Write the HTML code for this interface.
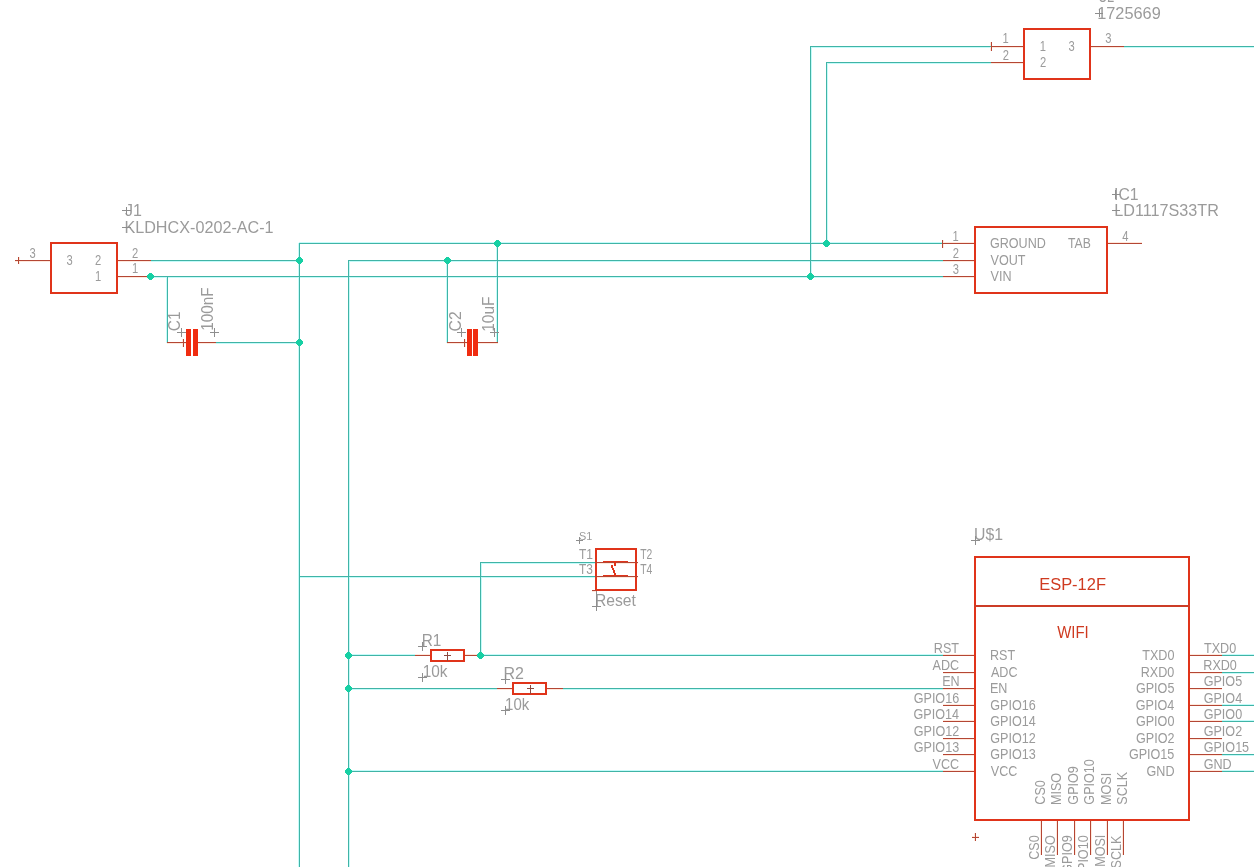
<!DOCTYPE html>
<html><head><meta charset="utf-8"><style>
html,body{margin:0;padding:0;background:#fff;overflow:hidden;}
svg{display:block;will-change:transform;}
text{font-family:"Liberation Sans",sans-serif;}
</style></head><body>
<svg width="1254" height="867" viewBox="0 0 1254 867">
<rect width="1254" height="867" fill="#fff"/>
<g shape-rendering="crispEdges">
<rect x="810" y="47" width="182" height="1" fill="#c4fbfa"/>
<rect x="826" y="63" width="166" height="1" fill="#c4fbfa"/>
<rect x="811" y="46" width="1" height="231" fill="#c4fbfa"/>
<rect x="827" y="62" width="1" height="182" fill="#c4fbfa"/>
<rect x="1123" y="47" width="131" height="1" fill="#c4fbfa"/>
<rect x="299" y="242" width="645" height="1" fill="#c4fbfa"/>
<rect x="150" y="261" width="150" height="1" fill="#c4fbfa"/>
<rect x="348" y="261" width="596" height="1" fill="#c4fbfa"/>
<rect x="150" y="277" width="794" height="1" fill="#c4fbfa"/>
<rect x="298" y="243" width="1" height="624" fill="#c4fbfa"/>
<rect x="349" y="260" width="1" height="607" fill="#c4fbfa"/>
<rect x="166" y="276" width="1" height="67" fill="#c4fbfa"/>
<rect x="215" y="343" width="85" height="1" fill="#c4fbfa"/>
<rect x="446" y="260" width="1" height="83" fill="#c4fbfa"/>
<rect x="496" y="243" width="1" height="100" fill="#c4fbfa"/>
<rect x="299" y="577" width="297" height="1" fill="#c4fbfa"/>
<rect x="480" y="563" width="116" height="1" fill="#c4fbfa"/>
<rect x="481" y="562" width="1" height="94" fill="#c4fbfa"/>
<rect x="348" y="654" width="68" height="1" fill="#c4fbfa"/>
<rect x="477" y="654" width="467" height="1" fill="#c4fbfa"/>
<rect x="348" y="689" width="150" height="1" fill="#c4fbfa"/>
<rect x="563" y="689" width="381" height="1" fill="#c4fbfa"/>
<rect x="348" y="770" width="596" height="1" fill="#c4fbfa"/>
<rect x="1222" y="654" width="32" height="1" fill="#c4fbfa"/>
<rect x="1222" y="673" width="32" height="1" fill="#c4fbfa"/>
<rect x="1222" y="704" width="32" height="1" fill="#c4fbfa"/>
<rect x="1222" y="720" width="32" height="1" fill="#c4fbfa"/>
<rect x="1222" y="755" width="32" height="1" fill="#c4fbfa"/>
<rect x="1222" y="770" width="32" height="1" fill="#c4fbfa"/>
<rect x="15" y="261" width="35" height="1" fill="#ffe8dc"/>
<rect x="19" y="257" width="1" height="7" fill="#ffe8dc"/>
<rect x="118" y="261" width="33" height="1" fill="#ffe8dc"/>
<rect x="118" y="277" width="33" height="1" fill="#ffe8dc"/>
<rect x="167" y="343" width="19" height="1" fill="#ffe8dc"/>
<rect x="198" y="343" width="18" height="1" fill="#ffe8dc"/>
<rect x="182" y="339" width="1" height="8" fill="#ffe8dc"/>
<rect x="447" y="343" width="20" height="1" fill="#ffe8dc"/>
<rect x="478" y="343" width="20" height="1" fill="#ffe8dc"/>
<rect x="465" y="339" width="1" height="8" fill="#ffe8dc"/>
<rect x="991" y="47" width="32" height="1" fill="#ffe8dc"/>
<rect x="991" y="63" width="32" height="1" fill="#ffe8dc"/>
<rect x="1091" y="47" width="33" height="1" fill="#ffe8dc"/>
<rect x="990" y="42" width="1" height="9" fill="#ffe8dc"/>
<rect x="943" y="242" width="31" height="1" fill="#ffe8dc"/>
<rect x="943" y="261" width="31" height="1" fill="#ffe8dc"/>
<rect x="943" y="277" width="31" height="1" fill="#ffe8dc"/>
<rect x="1108" y="242" width="34" height="1" fill="#ffe8dc"/>
<rect x="943" y="240" width="1" height="8" fill="#ffe8dc"/>
<rect x="595" y="563" width="43" height="1" fill="#ffe8dc"/>
<rect x="595" y="577" width="43" height="1" fill="#ffe8dc"/>
<rect x="592" y="591" width="4" height="1" fill="#ffe8dc"/>
<rect x="415" y="654" width="15" height="1" fill="#ffe8dc"/>
<rect x="465" y="654" width="12" height="1" fill="#ffe8dc"/>
<rect x="497" y="689" width="15" height="1" fill="#ffe8dc"/>
<rect x="547" y="689" width="16" height="1" fill="#ffe8dc"/>
<rect x="943" y="654" width="31" height="1" fill="#ffe8dc"/>
<rect x="943" y="673" width="31" height="1" fill="#ffe8dc"/>
<rect x="943" y="689" width="31" height="1" fill="#ffe8dc"/>
<rect x="943" y="704" width="31" height="1" fill="#ffe8dc"/>
<rect x="943" y="720" width="31" height="1" fill="#ffe8dc"/>
<rect x="943" y="739" width="31" height="1" fill="#ffe8dc"/>
<rect x="943" y="755" width="31" height="1" fill="#ffe8dc"/>
<rect x="943" y="770" width="31" height="1" fill="#ffe8dc"/>
<rect x="1190" y="654" width="32" height="1" fill="#ffe8dc"/>
<rect x="1190" y="673" width="32" height="1" fill="#ffe8dc"/>
<rect x="1190" y="689" width="32" height="1" fill="#ffe8dc"/>
<rect x="1190" y="704" width="32" height="1" fill="#ffe8dc"/>
<rect x="1190" y="720" width="32" height="1" fill="#ffe8dc"/>
<rect x="1190" y="739" width="32" height="1" fill="#ffe8dc"/>
<rect x="1190" y="755" width="32" height="1" fill="#ffe8dc"/>
<rect x="1190" y="770" width="32" height="1" fill="#ffe8dc"/>
<rect x="1040" y="821" width="1" height="34" fill="#ffe8dc"/>
<rect x="1056" y="821" width="1" height="34" fill="#ffe8dc"/>
<rect x="1075" y="821" width="1" height="34" fill="#ffe8dc"/>
<rect x="1091" y="821" width="1" height="34" fill="#ffe8dc"/>
<rect x="1106" y="821" width="1" height="34" fill="#ffe8dc"/>
<rect x="1122" y="821" width="1" height="34" fill="#ffe8dc"/>
<rect x="972" y="836" width="7" height="1" fill="#ffe8dc"/>
<rect x="974" y="833" width="1" height="8" fill="#ffe8dc"/>
<rect x="810" y="46" width="182" height="1" fill="#40b4a6"/>
<rect x="826" y="62" width="166" height="1" fill="#40b4a6"/>
<rect x="810" y="46" width="1" height="231" fill="#40b4a6"/>
<rect x="826" y="62" width="1" height="182" fill="#40b4a6"/>
<rect x="1123" y="46" width="131" height="1" fill="#40b4a6"/>
<rect x="299" y="243" width="645" height="1" fill="#40b4a6"/>
<rect x="150" y="260" width="150" height="1" fill="#40b4a6"/>
<rect x="348" y="260" width="596" height="1" fill="#40b4a6"/>
<rect x="150" y="276" width="794" height="1" fill="#40b4a6"/>
<rect x="299" y="243" width="1" height="624" fill="#40b4a6"/>
<rect x="348" y="260" width="1" height="607" fill="#40b4a6"/>
<rect x="167" y="276" width="1" height="67" fill="#40b4a6"/>
<rect x="215" y="342" width="85" height="1" fill="#40b4a6"/>
<rect x="447" y="260" width="1" height="83" fill="#40b4a6"/>
<rect x="497" y="243" width="1" height="100" fill="#40b4a6"/>
<rect x="299" y="576" width="297" height="1" fill="#40b4a6"/>
<rect x="480" y="562" width="116" height="1" fill="#40b4a6"/>
<rect x="480" y="562" width="1" height="94" fill="#40b4a6"/>
<rect x="348" y="655" width="68" height="1" fill="#40b4a6"/>
<rect x="477" y="655" width="467" height="1" fill="#40b4a6"/>
<rect x="348" y="688" width="150" height="1" fill="#40b4a6"/>
<rect x="563" y="688" width="381" height="1" fill="#40b4a6"/>
<rect x="348" y="771" width="596" height="1" fill="#40b4a6"/>
<rect x="1222" y="655" width="32" height="1" fill="#40b4a6"/>
<rect x="1222" y="672" width="32" height="1" fill="#40b4a6"/>
<rect x="1222" y="705" width="32" height="1" fill="#40b4a6"/>
<rect x="1222" y="721" width="32" height="1" fill="#40b4a6"/>
<rect x="1222" y="754" width="32" height="1" fill="#40b4a6"/>
<rect x="1222" y="771" width="32" height="1" fill="#40b4a6"/>
<rect x="50" y="242" width="68" height="2" fill="#e0341a"/>
<rect x="50" y="292" width="68" height="2" fill="#e0341a"/>
<rect x="50" y="242" width="2" height="52" fill="#e0341a"/>
<rect x="116" y="242" width="2" height="52" fill="#e0341a"/>
<rect x="15" y="260" width="35" height="1" fill="#b44634"/>
<rect x="18" y="257" width="1" height="7" fill="#b44634"/>
<rect x="118" y="260" width="33" height="1" fill="#b44634"/>
<rect x="118" y="276" width="33" height="1" fill="#b44634"/>
<text transform="translate(29.42,258.00) scale(0.8000,1)" font-size="14" fill="#9b9b9b">3</text>
<text transform="translate(66.42,264.60) scale(0.8000,1)" font-size="14" fill="#9b9b9b">3</text>
<text transform="translate(95.08,264.60) scale(0.8000,1)" font-size="14" fill="#9b9b9b">2</text>
<text transform="translate(94.92,280.50) scale(0.8000,1)" font-size="14" fill="#9b9b9b">1</text>
<text transform="translate(132.08,257.70) scale(0.8000,1)" font-size="14" fill="#9b9b9b">2</text>
<text transform="translate(131.92,273.30) scale(0.8000,1)" font-size="14" fill="#9b9b9b">1</text>
<text transform="translate(124.90,215.80) scale(1.0000,1)" font-size="16" fill="#9b9b9b">J1</text>
<text transform="translate(124.38,232.90) scale(1.0124,1)" font-size="16" fill="#9b9b9b">KLDHCX-0202-AC-1</text>
<rect x="122" y="210" width="9" height="1" fill="#8e8e8e"/>
<rect x="126" y="207" width="1" height="8" fill="#8e8e8e"/>
<rect x="122" y="227" width="9" height="1" fill="#8e8e8e"/>
<rect x="167" y="342" width="19" height="1" fill="#b44634"/>
<rect x="198" y="342" width="18" height="1" fill="#b44634"/>
<rect x="186" y="329" width="5" height="27" fill="#f02c10"/>
<rect x="193" y="329" width="5" height="27" fill="#f02c10"/>
<rect x="183" y="339" width="1" height="8" fill="#b44634"/>
<text transform="translate(180.10,331.27) rotate(-90) scale(0.9683,1)" font-size="16" fill="#9b9b9b">C1</text>
<text transform="translate(212.90,330.64) rotate(-90) scale(0.9540,1)" font-size="16" fill="#9b9b9b">100nF</text>
<rect x="177" y="332" width="9" height="1" fill="#8e8e8e"/>
<rect x="181" y="328" width="1" height="9" fill="#8e8e8e"/>
<rect x="210" y="332" width="9" height="1" fill="#8e8e8e"/>
<rect x="214" y="328" width="1" height="9" fill="#8e8e8e"/>
<rect x="447" y="342" width="20" height="1" fill="#b44634"/>
<rect x="478" y="342" width="20" height="1" fill="#b44634"/>
<rect x="467" y="329" width="5" height="27" fill="#f02c10"/>
<rect x="473" y="329" width="5" height="27" fill="#f02c10"/>
<rect x="464" y="339" width="1" height="8" fill="#b44634"/>
<text transform="translate(460.80,331.39) rotate(-90) scale(0.9841,1)" font-size="16" fill="#9b9b9b">C2</text>
<text transform="translate(493.60,331.76) rotate(-90) scale(0.9682,1)" font-size="16" fill="#9b9b9b">10uF</text>
<rect x="457" y="332" width="9" height="1" fill="#8e8e8e"/>
<rect x="461" y="328" width="1" height="9" fill="#8e8e8e"/>
<rect x="490" y="332" width="9" height="1" fill="#8e8e8e"/>
<rect x="494" y="328" width="1" height="9" fill="#8e8e8e"/>
<rect x="1023" y="28" width="68" height="2" fill="#e0341a"/>
<rect x="1023" y="78" width="68" height="2" fill="#e0341a"/>
<rect x="1023" y="28" width="2" height="52" fill="#e0341a"/>
<rect x="1089" y="28" width="2" height="52" fill="#e0341a"/>
<rect x="991" y="46" width="32" height="1" fill="#b44634"/>
<rect x="991" y="62" width="32" height="1" fill="#b44634"/>
<rect x="1091" y="46" width="33" height="1" fill="#b44634"/>
<rect x="991" y="42" width="1" height="9" fill="#b44634"/>
<text transform="translate(1002.52,42.80) scale(0.8000,1)" font-size="14" fill="#9b9b9b">1</text>
<text transform="translate(1002.68,59.60) scale(0.8000,1)" font-size="14" fill="#9b9b9b">2</text>
<text transform="translate(1105.32,42.80) scale(0.8000,1)" font-size="14" fill="#9b9b9b">3</text>
<text transform="translate(1039.82,51.00) scale(0.8000,1)" font-size="14" fill="#9b9b9b">1</text>
<text transform="translate(1039.98,66.70) scale(0.8000,1)" font-size="14" fill="#9b9b9b">2</text>
<text transform="translate(1068.42,51.00) scale(0.8000,1)" font-size="14" fill="#9b9b9b">3</text>
<text transform="translate(1098.15,1.80) scale(0.7946,1)" font-size="16" fill="#9b9b9b">U2</text>
<text transform="translate(1097.17,18.70) scale(1.0215,1)" font-size="16" fill="#9b9b9b">1725669</text>
<rect x="1095" y="13" width="8" height="1" fill="#8e8e8e"/>
<rect x="1099" y="9" width="1" height="8" fill="#8e8e8e"/>
<rect x="974" y="226" width="134" height="2" fill="#e0341a"/>
<rect x="974" y="292" width="134" height="2" fill="#e0341a"/>
<rect x="974" y="226" width="2" height="68" fill="#e0341a"/>
<rect x="1106" y="226" width="2" height="68" fill="#e0341a"/>
<rect x="943" y="243" width="31" height="1" fill="#b44634"/>
<rect x="943" y="260" width="31" height="1" fill="#b44634"/>
<rect x="943" y="276" width="31" height="1" fill="#b44634"/>
<rect x="1108" y="243" width="34" height="1" fill="#b44634"/>
<rect x="942" y="240" width="1" height="8" fill="#b44634"/>
<text transform="translate(952.52,240.90) scale(0.8000,1)" font-size="14" fill="#9b9b9b">1</text>
<text transform="translate(952.68,258.00) scale(0.8000,1)" font-size="14" fill="#9b9b9b">2</text>
<text transform="translate(952.72,273.50) scale(0.8000,1)" font-size="14" fill="#9b9b9b">3</text>
<text transform="translate(1122.32,241.00) scale(0.8000,1)" font-size="14" fill="#9b9b9b">4</text>
<text transform="translate(989.97,247.90) scale(0.8997,1)" font-size="14" fill="#9b9b9b">GROUND</text>
<text transform="translate(990.51,264.70) scale(0.9000,1)" font-size="14" fill="#9b9b9b">VOUT</text>
<text transform="translate(990.51,280.50) scale(0.9000,1)" font-size="14" fill="#9b9b9b">VIN</text>
<text transform="translate(1067.94,247.90) scale(0.8730,1)" font-size="14" fill="#9b9b9b">TAB</text>
<text transform="translate(1114.02,199.50) scale(0.9867,1)" font-size="16" fill="#9b9b9b">IC1</text>
<text transform="translate(1114.18,215.80) scale(1.0128,1)" font-size="16" fill="#9b9b9b">LD1117S33TR</text>
<rect x="1112" y="194" width="8" height="1" fill="#8e8e8e"/>
<rect x="1115" y="190" width="1" height="9" fill="#8e8e8e"/>
<rect x="1112" y="210" width="8" height="1" fill="#8e8e8e"/>
<rect x="595" y="548" width="42" height="2" fill="#e0341a"/>
<rect x="595" y="589" width="42" height="2" fill="#e0341a"/>
<rect x="595" y="548" width="2" height="43" fill="#e0341a"/>
<rect x="635" y="548" width="2" height="43" fill="#e0341a"/>
<rect x="595" y="562" width="43" height="1" fill="#b44634"/>
<rect x="595" y="576" width="43" height="1" fill="#b44634"/>
<rect x="603" y="561" width="25" height="1" fill="#e0341a"/>
<rect x="603" y="575" width="25" height="1" fill="#e0341a"/>
<rect x="614" y="562" width="2" height="4" fill="#e0341a"/>
<rect x="611" y="565" width="2" height="1" fill="#e0341a"/>
<rect x="611" y="566" width="2" height="1" fill="#e0341a"/>
<rect x="611" y="567" width="2" height="1" fill="#e0341a"/>
<rect x="612" y="568" width="2" height="1" fill="#e0341a"/>
<rect x="612" y="569" width="2" height="1" fill="#e0341a"/>
<rect x="613" y="570" width="2" height="1" fill="#e0341a"/>
<rect x="613" y="571" width="2" height="1" fill="#e0341a"/>
<rect x="613" y="572" width="2" height="1" fill="#e0341a"/>
<rect x="614" y="573" width="2" height="1" fill="#e0341a"/>
<rect x="614" y="574" width="2" height="1" fill="#e0341a"/>
<text transform="translate(578.94,558.70) scale(0.8571,1)" font-size="14" fill="#9b9b9b">T1</text>
<text transform="translate(578.94,573.60) scale(0.8516,1)" font-size="14" fill="#9b9b9b">T3</text>
<text transform="translate(640.18,558.70) scale(0.7403,1)" font-size="14" fill="#9b9b9b">T2</text>
<text transform="translate(640.18,573.60) scale(0.7389,1)" font-size="14" fill="#9b9b9b">T4</text>
<text transform="translate(579.10,539.80) scale(0.9919,1)" font-size="11" fill="#9b9b9b">S1</text>
<rect x="576" y="540" width="7" height="1" fill="#8e8e8e"/>
<rect x="579" y="537" width="1" height="7" fill="#8e8e8e"/>
<text transform="translate(594.93,605.80) scale(0.9802,1)" font-size="16" fill="#9b9b9b">Reset</text>
<rect x="596" y="591" width="1" height="20" fill="#8e8e8e"/>
<rect x="592" y="606" width="9" height="1" fill="#8e8e8e"/>
<rect x="592" y="590" width="4" height="1" fill="#b44634"/>
<rect x="430" y="649" width="35" height="2" fill="#e0341a"/>
<rect x="430" y="660" width="35" height="2" fill="#e0341a"/>
<rect x="430" y="649" width="2" height="13" fill="#e0341a"/>
<rect x="463" y="649" width="2" height="13" fill="#e0341a"/>
<rect x="415" y="655" width="15" height="1" fill="#b44634"/>
<rect x="465" y="655" width="12" height="1" fill="#b44634"/>
<rect x="444" y="655" width="7" height="1" fill="#8a4a40"/>
<rect x="447" y="652" width="1" height="9" fill="#8a4a40"/>
<rect x="512" y="682" width="35" height="2" fill="#e0341a"/>
<rect x="512" y="693" width="35" height="2" fill="#e0341a"/>
<rect x="512" y="682" width="2" height="13" fill="#e0341a"/>
<rect x="545" y="682" width="2" height="13" fill="#e0341a"/>
<rect x="497" y="688" width="15" height="1" fill="#b44634"/>
<rect x="547" y="688" width="16" height="1" fill="#b44634"/>
<rect x="527" y="688" width="7" height="1" fill="#8a4a40"/>
<rect x="530" y="685" width="1" height="9" fill="#8a4a40"/>
<text transform="translate(421.65,645.90) scale(0.9620,1)" font-size="16" fill="#9b9b9b">R1</text>
<text transform="translate(422.64,676.70) scale(0.9634,1)" font-size="16" fill="#9b9b9b">10k</text>
<rect x="418" y="646" width="9" height="1" fill="#8e8e8e"/>
<rect x="422" y="642" width="1" height="9" fill="#8e8e8e"/>
<rect x="418" y="677" width="9" height="1" fill="#8e8e8e"/>
<rect x="422" y="673" width="1" height="9" fill="#8e8e8e"/>
<text transform="translate(503.50,678.80) scale(1.0000,1)" font-size="16" fill="#9b9b9b">R2</text>
<text transform="translate(505.08,709.70) scale(0.9350,1)" font-size="16" fill="#9b9b9b">10k</text>
<rect x="501" y="679" width="9" height="1" fill="#8e8e8e"/>
<rect x="505" y="675" width="1" height="9" fill="#8e8e8e"/>
<rect x="501" y="710" width="9" height="1" fill="#8e8e8e"/>
<rect x="505" y="706" width="1" height="9" fill="#8e8e8e"/>
<rect x="974" y="556" width="216" height="2" fill="#e0341a"/>
<rect x="974" y="819" width="216" height="2" fill="#e0341a"/>
<rect x="974" y="556" width="2" height="265" fill="#e0341a"/>
<rect x="1188" y="556" width="2" height="265" fill="#e0341a"/>
<rect x="974" y="605" width="216" height="2" fill="#cc3c26"/>
<text transform="translate(1039.16,590.10) scale(1.0302,1)" font-size="16" fill="#cf3a20">ESP-12F</text>
<text transform="translate(1057.21,638.00) scale(0.9348,1)" font-size="16" fill="#cf3a20">WIFI</text>
<text transform="translate(974.01,539.70) scale(0.9891,1)" font-size="16" fill="#9b9b9b">U$1</text>
<rect x="971" y="540" width="9" height="1" fill="#8e8e8e"/>
<rect x="975" y="536" width="1" height="9" fill="#8e8e8e"/>
<rect x="943" y="655" width="31" height="1" fill="#b44634"/>
<text transform="translate(933.86,652.70) scale(0.9000,1)" font-size="14" fill="#9b9b9b">RST</text>
<text transform="translate(989.91,659.60) scale(0.9000,1)" font-size="14" fill="#9b9b9b">RST</text>
<rect x="943" y="672" width="31" height="1" fill="#b44634"/>
<text transform="translate(932.60,669.70) scale(0.9000,1)" font-size="14" fill="#9b9b9b">ADC</text>
<text transform="translate(990.90,676.60) scale(0.9000,1)" font-size="14" fill="#9b9b9b">ADC</text>
<rect x="943" y="688" width="31" height="1" fill="#b44634"/>
<text transform="translate(942.23,685.70) scale(0.9000,1)" font-size="14" fill="#9b9b9b">EN</text>
<text transform="translate(989.91,692.60) scale(0.9000,1)" font-size="14" fill="#9b9b9b">EN</text>
<rect x="943" y="705" width="31" height="1" fill="#b44634"/>
<text transform="translate(913.70,702.70) scale(0.9000,1)" font-size="14" fill="#9b9b9b">GPIO16</text>
<text transform="translate(990.27,709.60) scale(0.9000,1)" font-size="14" fill="#9b9b9b">GPIO16</text>
<rect x="943" y="721" width="31" height="1" fill="#b44634"/>
<text transform="translate(913.52,718.70) scale(0.9000,1)" font-size="14" fill="#9b9b9b">GPIO14</text>
<text transform="translate(990.27,725.60) scale(0.9000,1)" font-size="14" fill="#9b9b9b">GPIO14</text>
<rect x="943" y="738" width="31" height="1" fill="#b44634"/>
<text transform="translate(913.79,735.70) scale(0.9000,1)" font-size="14" fill="#9b9b9b">GPIO12</text>
<text transform="translate(990.27,742.60) scale(0.9000,1)" font-size="14" fill="#9b9b9b">GPIO12</text>
<rect x="943" y="754" width="31" height="1" fill="#b44634"/>
<text transform="translate(913.70,751.70) scale(0.9000,1)" font-size="14" fill="#9b9b9b">GPIO13</text>
<text transform="translate(990.27,758.60) scale(0.9000,1)" font-size="14" fill="#9b9b9b">GPIO13</text>
<rect x="943" y="771" width="31" height="1" fill="#b44634"/>
<text transform="translate(932.60,768.70) scale(0.9000,1)" font-size="14" fill="#9b9b9b">VCC</text>
<text transform="translate(990.81,775.60) scale(0.9000,1)" font-size="14" fill="#9b9b9b">VCC</text>
<rect x="1190" y="655" width="32" height="1" fill="#b44634"/>
<text transform="translate(1204.03,652.70) scale(0.9000,1)" font-size="14" fill="#9b9b9b">TXD0</text>
<text transform="translate(1142.22,659.60) scale(0.9000,1)" font-size="14" fill="#9b9b9b">TXD0</text>
<rect x="1190" y="672" width="32" height="1" fill="#b44634"/>
<text transform="translate(1203.31,669.70) scale(0.9000,1)" font-size="14" fill="#9b9b9b">RXD0</text>
<text transform="translate(1140.78,676.60) scale(0.9000,1)" font-size="14" fill="#9b9b9b">RXD0</text>
<rect x="1190" y="688" width="32" height="1" fill="#b44634"/>
<text transform="translate(1203.67,685.70) scale(0.9000,1)" font-size="14" fill="#9b9b9b">GPIO5</text>
<text transform="translate(1135.92,692.60) scale(0.9000,1)" font-size="14" fill="#9b9b9b">GPIO5</text>
<rect x="1190" y="705" width="32" height="1" fill="#b44634"/>
<text transform="translate(1203.67,702.70) scale(0.9000,1)" font-size="14" fill="#9b9b9b">GPIO4</text>
<text transform="translate(1135.74,709.60) scale(0.9000,1)" font-size="14" fill="#9b9b9b">GPIO4</text>
<rect x="1190" y="721" width="32" height="1" fill="#b44634"/>
<text transform="translate(1203.67,718.70) scale(0.9000,1)" font-size="14" fill="#9b9b9b">GPIO0</text>
<text transform="translate(1135.92,725.60) scale(0.9000,1)" font-size="14" fill="#9b9b9b">GPIO0</text>
<rect x="1190" y="738" width="32" height="1" fill="#b44634"/>
<text transform="translate(1203.67,735.70) scale(0.9000,1)" font-size="14" fill="#9b9b9b">GPIO2</text>
<text transform="translate(1136.01,742.60) scale(0.9000,1)" font-size="14" fill="#9b9b9b">GPIO2</text>
<rect x="1190" y="754" width="32" height="1" fill="#b44634"/>
<text transform="translate(1203.67,751.70) scale(0.9000,1)" font-size="14" fill="#9b9b9b">GPIO15</text>
<text transform="translate(1128.90,758.60) scale(0.9000,1)" font-size="14" fill="#9b9b9b">GPIO15</text>
<rect x="1190" y="771" width="32" height="1" fill="#b44634"/>
<text transform="translate(1203.67,768.70) scale(0.9000,1)" font-size="14" fill="#9b9b9b">GND</text>
<text transform="translate(1146.54,775.60) scale(0.9000,1)" font-size="14" fill="#9b9b9b">GND</text>
<rect x="1041" y="821" width="1" height="34" fill="#b44634"/>
<text transform="translate(1045.00,804.63) rotate(-90) scale(0.9000,1)" font-size="14" fill="#9b9b9b">CS0</text>
<text transform="translate(1038.50,859.74) rotate(-90) scale(0.9000,1)" font-size="14" fill="#9b9b9b">CS0</text>
<rect x="1057" y="821" width="1" height="34" fill="#b44634"/>
<text transform="translate(1061.00,804.99) rotate(-90) scale(0.9000,1)" font-size="14" fill="#9b9b9b">MISO</text>
<text transform="translate(1054.50,867.39) rotate(-90) scale(0.9000,1)" font-size="14" fill="#9b9b9b">MISO</text>
<rect x="1074" y="821" width="1" height="34" fill="#b44634"/>
<text transform="translate(1078.00,804.63) rotate(-90) scale(0.9000,1)" font-size="14" fill="#9b9b9b">GPIO9</text>
<text transform="translate(1071.50,873.69) rotate(-90) scale(0.9000,1)" font-size="14" fill="#9b9b9b">GPIO9</text>
<rect x="1090" y="821" width="1" height="34" fill="#b44634"/>
<text transform="translate(1094.00,804.63) rotate(-90) scale(0.9000,1)" font-size="14" fill="#9b9b9b">GPIO10</text>
<text transform="translate(1087.50,880.80) rotate(-90) scale(0.9000,1)" font-size="14" fill="#9b9b9b">GPIO10</text>
<rect x="1107" y="821" width="1" height="34" fill="#b44634"/>
<text transform="translate(1111.00,804.99) rotate(-90) scale(0.9000,1)" font-size="14" fill="#9b9b9b">MOSI</text>
<text transform="translate(1104.50,866.85) rotate(-90) scale(0.9000,1)" font-size="14" fill="#9b9b9b">MOSI</text>
<rect x="1123" y="821" width="1" height="34" fill="#b44634"/>
<text transform="translate(1127.00,804.63) rotate(-90) scale(0.9000,1)" font-size="14" fill="#9b9b9b">SCLK</text>
<text transform="translate(1120.50,868.47) rotate(-90) scale(0.9000,1)" font-size="14" fill="#9b9b9b">SCLK</text>
<rect x="972" y="837" width="7" height="1" fill="#b44634"/>
<rect x="975" y="833" width="1" height="8" fill="#b44634"/>
<rect x="149" y="273" width="3" height="7" fill="#16d0a4"/>
<rect x="148" y="274" width="5" height="5" fill="#16d0a4"/>
<rect x="147" y="275" width="7" height="3" fill="#16d0a4"/>
<rect x="298" y="257" width="3" height="7" fill="#16d0a4"/>
<rect x="297" y="258" width="5" height="5" fill="#16d0a4"/>
<rect x="296" y="259" width="7" height="3" fill="#16d0a4"/>
<rect x="298" y="339" width="3" height="7" fill="#16d0a4"/>
<rect x="297" y="340" width="5" height="5" fill="#16d0a4"/>
<rect x="296" y="341" width="7" height="3" fill="#16d0a4"/>
<rect x="496" y="240" width="3" height="7" fill="#16d0a4"/>
<rect x="495" y="241" width="5" height="5" fill="#16d0a4"/>
<rect x="494" y="242" width="7" height="3" fill="#16d0a4"/>
<rect x="446" y="257" width="3" height="7" fill="#16d0a4"/>
<rect x="445" y="258" width="5" height="5" fill="#16d0a4"/>
<rect x="444" y="259" width="7" height="3" fill="#16d0a4"/>
<rect x="825" y="240" width="3" height="7" fill="#16d0a4"/>
<rect x="824" y="241" width="5" height="5" fill="#16d0a4"/>
<rect x="823" y="242" width="7" height="3" fill="#16d0a4"/>
<rect x="809" y="273" width="3" height="7" fill="#16d0a4"/>
<rect x="808" y="274" width="5" height="5" fill="#16d0a4"/>
<rect x="807" y="275" width="7" height="3" fill="#16d0a4"/>
<rect x="347" y="652" width="3" height="7" fill="#16d0a4"/>
<rect x="346" y="653" width="5" height="5" fill="#16d0a4"/>
<rect x="345" y="654" width="7" height="3" fill="#16d0a4"/>
<rect x="347" y="685" width="3" height="7" fill="#16d0a4"/>
<rect x="346" y="686" width="5" height="5" fill="#16d0a4"/>
<rect x="345" y="687" width="7" height="3" fill="#16d0a4"/>
<rect x="347" y="768" width="3" height="7" fill="#16d0a4"/>
<rect x="346" y="769" width="5" height="5" fill="#16d0a4"/>
<rect x="345" y="770" width="7" height="3" fill="#16d0a4"/>
<rect x="479" y="652" width="3" height="7" fill="#16d0a4"/>
<rect x="478" y="653" width="5" height="5" fill="#16d0a4"/>
<rect x="477" y="654" width="7" height="3" fill="#16d0a4"/>
</g>
</svg>
</body></html>
